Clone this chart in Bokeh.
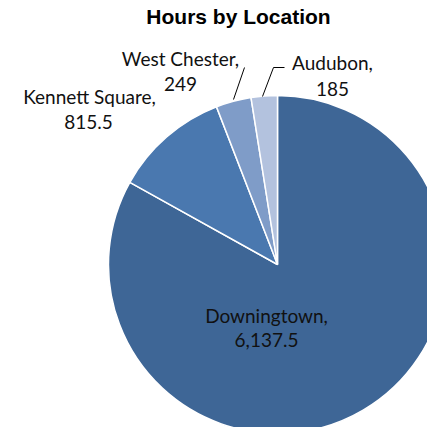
from math import pi
from bokeh.plotting import figure
from bokeh.models import Range1d, ColumnDataSource
from bokeh.core.properties import value
from bokeh.embed import file_html
from bokeh.resources import INLINE

locations = ["Downingtown", "Kennett Square", "West Chester", "Audubon"]
hours = [6137.5, 815.5, 249, 185]
hour_labels = ["6,137.5", "815.5", "249", "185"]
colors = ["#3E6696", "#4A78AF", "#7F9CC8", "#B3C2DE"]

total = sum(hours)
starts, ends = [], []
cum = 0.0
for h in hours:
    a0 = pi / 2 - 2 * pi * (cum + h) / total
    a1 = pi / 2 - 2 * pi * cum / total
    starts.append(a0)
    ends.append(a1)
    cum += h

W = H = 427
p = figure(width=W, height=H, output_backend="svg", toolbar_location=None,
           x_range=Range1d(0, W), y_range=Range1d(-H, 0),
           min_border=0, outline_line_color=None)
p.axis.visible = False
p.grid.visible = False

cx, cy, r = 277, -264, 169
src = ColumnDataSource(dict(start=starts, end=ends, color=colors))
p.wedge(x=cx, y=cy, radius=r, start_angle="start", end_angle="end",
        fill_color="color", line_color="white", line_width=1.5, source=src)

font = value("Lato")
# title
p.text(x=[238], y=[-16], text=["Hours by Location"], text_font=value("Liberation Sans"),
       text_font_style="bold", text_font_size="21px", text_align="center",
       text_baseline="middle", text_color="#000000")

# labels
lab_x = [266, 89, 180, 332]
lab_y1 = [-315, -96, -58, -62]
names = [n + "," for n in locations]
p.text(x=lab_x, y=lab_y1, text=names, text_font=font, text_font_size="19px",
       text_align="center", text_baseline="middle", text_color="#111111")
p.text(x=[266, 88, 180, 332], y=[-339, -121, -83, -88], text=hour_labels, text_font=font,
       text_font_size="19px", text_align="center", text_baseline="middle", text_color="#111111")

# leader lines
p.line(x=[233, 244], y=[-99, -67], line_color="black", line_width=1)
p.line(x=[262, 273, 284], y=[-96, -67, -67], line_color="black", line_width=1)

open("out.html", "w").write(file_html(p, INLINE))
